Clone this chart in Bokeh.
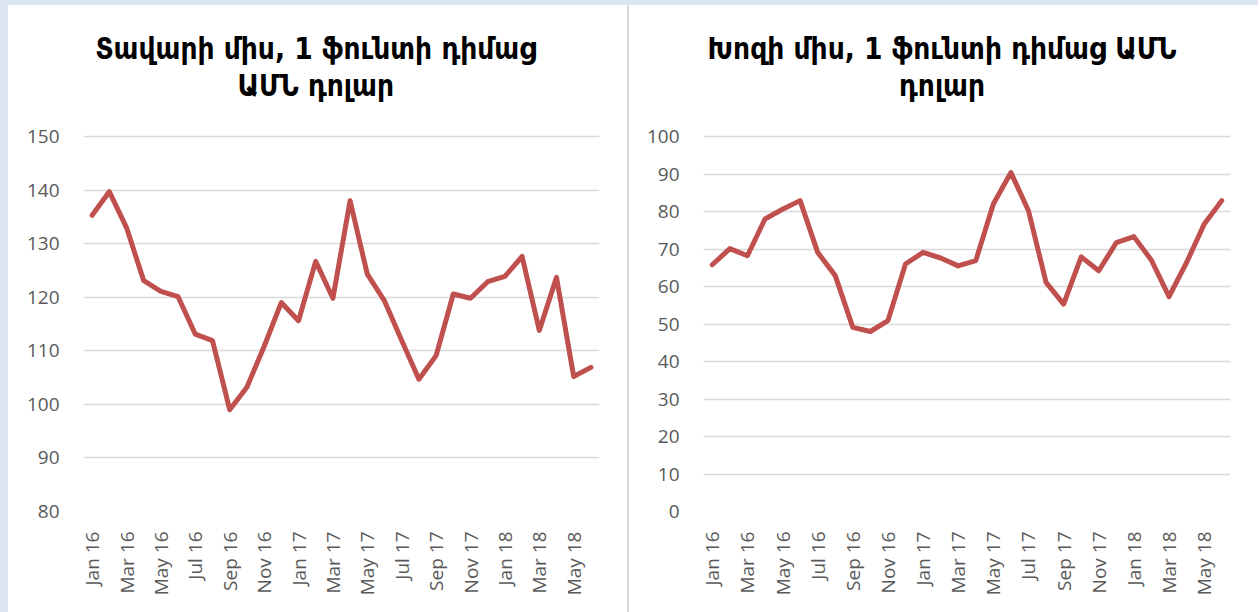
from bokeh.plotting import figure
from bokeh.models import Label, FixedTicker, Range1d, ColumnDataSource, Spacer
from bokeh.layouts import row
from bokeh.embed import file_html
from bokeh.resources import INLINE
from math import pi

months = ["Jan 16", "Feb 16", "Mar 16", "Apr 16", "May 16", "Jun 16",
          "Jul 16", "Aug 16", "Sep 16", "Oct 16", "Nov 16", "Dec 16",
          "Jan 17", "Feb 17", "Mar 17", "Apr 17", "May 17", "Jun 17",
          "Jul 17", "Aug 17", "Sep 17", "Oct 17", "Nov 17", "Dec 17",
          "Jan 18", "Feb 18", "Mar 18", "Apr 18", "May 18", "Jun 18"]

beef = [135.3, 139.7, 133.0, 123.1, 121.1, 120.1, 113.1, 111.9, 99.0, 103.2,
        110.8, 119.0, 115.6, 126.7, 119.8, 138.0, 124.3, 119.3, 111.9, 104.7,
        109.1, 120.6, 119.8, 122.9, 123.9, 127.6, 113.8, 123.7, 105.2, 106.9]

pork = [65.8, 70.1, 68.2, 78.0, 80.6, 82.9, 69.1, 62.9, 49.1, 48.0,
        50.9, 66.0, 69.1, 67.6, 65.5, 66.9, 82.0, 90.4, 80.2, 61.1,
        55.3, 67.9, 64.2, 71.7, 73.3, 67.0, 57.3, 66.4, 76.6, 82.9]

beef_yticks = [80, 90, 100, 110, 120, 130, 140, 150]
pork_yticks = [0, 10, 20, 30, 40, 50, 60, 70, 80, 90, 100]
label_idx = list(range(0, len(months), 2))

beef_title = ["Տավարի միս, 1 ֆունտի դիմաց", "ԱՄՆ դոլար"]
pork_title = ["Խոզի միս, 1 ֆունտի դիմաց ԱՄՆ", "դոլար"]

LINE_COLOR = "#c0504d"
GRID_COLOR = "#d9d9d9"
LABEL_COLOR = "#595959"
LABEL_FONT = "Open Sans"
TITLE_FONT = "DejaVu Sans Condensed"

HEIGHT = 607
BORDER_BOTTOM = 101
GRID_TOP_GAP = 131          # px from canvas top to the top gridline
TITLE_BASELINES = (88, 51)  # px above the top gridline for title lines 1 and 2


def make_panel(values, yticks, titles, title_x, width, border_left, border_right):
    frame_h = HEIGHT - BORDER_BOTTOM
    grid_h = frame_h - GRID_TOP_GAP
    per_px = (yticks[-1] - yticks[0]) / grid_h
    y_top = yticks[0] + frame_h * per_px   # room above the grid for the title

    p = figure(width=width, height=HEIGHT, output_backend="svg", toolbar_location=None,
               x_range=Range1d(-0.5, len(months) - 0.5),
               y_range=Range1d(yticks[0], y_top),
               title_location=None,
               min_border_left=border_left, min_border_right=border_right,
               min_border_top=0, min_border_bottom=BORDER_BOTTOM,
               background_fill_color="white", border_fill_color="white",
               outline_line_color=None,
               styles={"background-color": "white"})

    for text, up in zip(titles, TITLE_BASELINES):
        p.add_layout(Label(x=title_x, y=yticks[-1] + up * per_px, text=text,
                           text_align="center", text_baseline="alphabetic",
                           text_font=TITLE_FONT, text_font_style="bold",
                           text_font_size="29.5px", text_color="black"))

    src = ColumnDataSource(dict(x=list(range(len(months))), y=values))
    p.line("x", "y", source=src, line_color=LINE_COLOR, line_width=5,
           line_join="round", line_cap="round")

    p.xgrid.visible = False
    p.ygrid.grid_line_color = GRID_COLOR
    p.ygrid.grid_line_width = 1.5
    p.ygrid.ticker = FixedTicker(ticks=yticks)

    xa = p.xaxis[0]
    xa.ticker = FixedTicker(ticks=label_idx)
    xa.major_label_overrides = {i: months[i] for i in label_idx}
    xa.major_label_orientation = pi / 2
    xa.axis_line_color = None
    xa.major_tick_line_color = None
    xa.minor_tick_line_color = None
    xa.major_label_standoff = 14
    xa.major_label_text_font = LABEL_FONT
    xa.major_label_text_font_size = "19px"
    xa.major_label_text_color = LABEL_COLOR

    ya = p.yaxis[0]
    ya.ticker = FixedTicker(ticks=yticks)
    ya.axis_line_color = None
    ya.major_tick_line_color = None
    ya.minor_tick_line_color = None
    ya.major_label_standoff = 18
    ya.major_label_text_font = LABEL_FONT
    ya.major_label_text_font_size = "19px"
    ya.major_label_text_color = LABEL_COLOR
    return p


p1 = make_panel(beef, beef_yticks, beef_title, 13.0, 619, 75, 28)
p2 = make_panel(pork, pork_yticks, pork_title, 13.08, 629, 74, 28)

sep = Spacer(width=2, height=HEIGHT, styles={"background-color": GRID_COLOR})

layout = row(p1, sep, p2,
             styles={"padding": "5px 0 0 8px", "background-color": "#dce6f2"})

open("out.html", "w").write(file_html(layout, INLINE))
